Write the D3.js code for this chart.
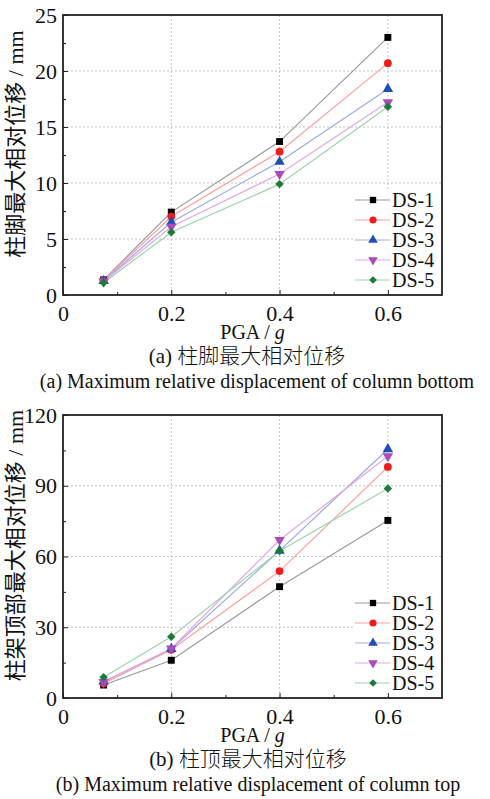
<!DOCTYPE html>
<html>
<head>
<meta charset="utf-8">
<script src="https://cdn.jsdelivr.net/npm/d3@7"></script>
<style>
  body { margin: 0; background: #fff; }
  svg { display: block; }
</style>
</head>
<body>
<div id="chart"></div>
<script>
// x values (PGA / g)
var pga = [0.075, 0.2, 0.4, 0.6]
var seriesNames = ["DS-1", "DS-2", "DS-3", "DS-4", "DS-5"]

// (a) column bottom, mm
var bottomDS1 = [1.35, 7.4, 13.7, 23.0]
var bottomDS2 = [1.3, 7.0, 12.8, 20.7]
var bottomDS3 = [1.25, 6.5, 11.9, 18.4]
var bottomDS4 = [1.2, 6.1, 10.8, 17.2]
var bottomDS5 = [1.1, 5.6, 9.9, 16.8]

// (b) column top, mm
var topDS1 = [5.5, 16.0, 47.2, 75.3]
var topDS2 = [6.2, 20.5, 53.8, 98.0]
var topDS3 = [7.0, 20.8, 62.5, 105.5]
var topDS4 = [6.8, 21.0, 67.0, 102.5]
var topDS5 = [8.8, 26.0, 62.3, 88.8]

var xTicks = [0, 0.2, 0.4, 0.6]
var bottomTicks = [0, 5, 10, 15, 20, 25]
var topTicks = [0, 30, 60, 90, 120]

var markerColors = ["#000000", "#f01c1c", "#1f4fb4", "#a84cb8", "#1e7a3a"]
var lineColors = ["#9a9a9a", "#ff9e9e", "#9eaae6", "#e2a8e6", "#9cd4aa"]
var symbols = [d3.symbolSquare, d3.symbolCircle, d3.symbolTriangle, d3.symbolTriangle, d3.symbolSquare]
var rotations = [0, 0, 0, 180, 45]

var SERIF = "'Liberation Serif', 'Times New Roman', serif"
var CJK = "'Noto Sans CJK SC', sans-serif"

var svg = d3.select("#chart").append("svg")
  .attr("width", 490)
  .attr("height", 799)

/*
 * LineChart - one panel
 */
LineChart = function (_g, _data, _opts) {
  this.g = _g
  this.data = _data
  this.opts = _opts
  this.initVis()
}

LineChart.prototype.initVis = function () {
  var vis = this
  var o = vis.opts

  vis.width = 379
  vis.height = o.height

  vis.x = d3.scaleLinear().domain([0, 0.7]).range([0, vis.width])
  vis.y = d3.scaleLinear().domain(o.yDomain).range([vis.height, 0])

  // grid
  vis.g.selectAll(".vgrid").data(xTicks.slice(1))
    .enter().append("line")
    .attr("x1", d => vis.x(d)).attr("x2", d => vis.x(d))
    .attr("y1", 0).attr("y2", vis.height)
    .attr("stroke", "#c4c4c4").attr("stroke-dasharray", "2,2")
  vis.g.selectAll(".hgrid").data(o.yTicks.slice(1, -1))
    .enter().append("line")
    .attr("x1", 0).attr("x2", vis.width)
    .attr("y1", d => vis.y(d)).attr("y2", d => vis.y(d))
    .attr("stroke", "#c4c4c4").attr("stroke-dasharray", "2,2")

  // lines
  var line = d3.line()
    .x((d, i) => vis.x(pga[i]))
    .y(d => vis.y(d))

  vis.data.forEach(function (vals, k) {
    vis.g.append("path")
      .attr("d", line(vals))
      .attr("fill", "none")
      .attr("stroke", lineColors[k])
      .attr("stroke-width", 1.2)
  })

  vis.data.forEach(function (vals, k) {
    vis.g.selectAll(".m" + k).data(vals)
      .enter().append("path")
      .attr("d", d3.symbol().type(symbols[k]).size(k == 4 ? 36 : 48))
      .attr("transform", (d, i) => "translate(" + vis.x(pga[i]) + "," + vis.y(d) + ") rotate(" + rotations[k] + ")")
      .attr("fill", markerColors[k])
  })

  // legend
  var lg = vis.g.append("g").attr("transform", "translate(290," + (vis.height - 106) + ")")
  lg.append("rect").attr("x", 0).attr("y", 0).attr("width", 88).attr("height", 104).attr("fill", "#fff")
  var items = lg.selectAll(".item").data(seriesNames).enter().append("g")
    .attr("transform", (d, i) => "translate(0," + (11 + i * 20) + ")")
  items.append("line")
    .attr("x1", 2).attr("x2", 37).attr("y1", 0).attr("y2", 0)
    .attr("stroke", (d, i) => lineColors[i]).attr("stroke-width", 1.2)
  items.append("path")
    .attr("d", (d, i) => d3.symbol().type(symbols[i]).size(i == 4 ? 30 : 40)())
    .attr("transform", (d, i) => "translate(20,0) rotate(" + rotations[i] + ")")
    .attr("fill", (d, i) => markerColors[i])
  items.append("text")
    .attr("x", 39).attr("y", 7)
    .style("font-family", SERIF)
    .style("font-size", "20px")
    .attr("fill", "#111")
    .text(d => d)

  // axes with inward ticks
  var xAxis = d3.axisBottom(vis.x).tickValues(xTicks).tickSize(-5).tickPadding(10)
    .tickFormat(d => d === 0 ? "0" : d3.format(".1f")(d))
  var xMinor = d3.axisBottom(vis.x).tickValues([0.1, 0.3, 0.5]).tickSize(-3).tickFormat("")
  var yAxis = d3.axisLeft(vis.y).tickValues(o.yTicks).tickSize(-5).tickPadding(6)
  var yMinor = d3.axisLeft(vis.y).tickValues(o.yMinor).tickSize(-3).tickFormat("")

  vis.g.append("g").attr("transform", "translate(0," + vis.height + ")").call(xMinor)
  vis.g.append("g").call(yMinor)
  var xg = vis.g.append("g").attr("transform", "translate(0," + vis.height + ")").call(xAxis)
  var yg = vis.g.append("g").call(yAxis)
  vis.g.selectAll(".domain").remove()
  vis.g.selectAll(".tick line").attr("stroke", "#222")
  xg.selectAll("text").style("font-family", SERIF).style("font-size", "22px").attr("fill", "#111")
  yg.selectAll("text").style("font-family", SERIF).style("font-size", "22px").attr("fill", "#111")

  // frame
  vis.g.append("rect")
    .attr("width", vis.width).attr("height", vis.height)
    .attr("fill", "none").attr("stroke", "#222").attr("stroke-width", 1.8)

  // y label
  var yl = vis.g.append("text")
    .attr("transform", "translate(-40," + (vis.height / 2 + o.labelShift) + ") rotate(-90)")
    .attr("text-anchor", "middle")
    .style("font-size", "22px")
    .attr("fill", "#111")
  yl.append("tspan").style("font-family", CJK).text(o.yLabel)
  yl.append("tspan").style("font-family", SERIF).text(" / mm")

  // x label
  var xl = vis.g.append("text")
    .attr("x", vis.width / 2).attr("y", vis.height + 44)
    .attr("text-anchor", "middle")
    .style("font-family", SERIF)
    .style("font-size", "20px")
    .attr("fill", "#111")
  xl.append("tspan").text("PGA / ")
  xl.append("tspan").attr("font-style", "italic").text("g")

  // captions
  var c1 = vis.g.append("text")
    .attr("x", o.capX - 10).attr("y", vis.height + 68)
    .attr("text-anchor", "middle")
    .style("font-size", "21px")
    .attr("fill", "#111")
  c1.append("tspan").style("font-family", SERIF).text(o.tag + " ")
  c1.append("tspan").style("font-family", CJK).style("font-weight", 300).text(o.capCN)

  vis.g.append("text")
    .attr("x", o.capX).attr("y", vis.height + 93)
    .attr("text-anchor", "middle")
    .style("font-family", SERIF)
    .style("font-size", "20px")
    .attr("fill", "#111")
    .text(o.tag + " " + o.capEN)
}

var g1 = svg.append("g").attr("transform", "translate(63,15)")
new LineChart(g1, [bottomDS1, bottomDS2, bottomDS3, bottomDS4, bottomDS5], {
  height: 280,
  yDomain: [0, 25],
  yTicks: bottomTicks,
  yMinor: [2.5, 7.5, 12.5, 17.5, 22.5],
  yLabel: "柱脚最大相对位移",
  labelShift: -11,
  tag: "(a)",
  capX: 194,
  capCN: "柱脚最大相对位移",
  capEN: "Maximum relative displacement of column bottom"
})

var g2 = svg.append("g").attr("transform", "translate(63,415)")
new LineChart(g2, [topDS1, topDS2, topDS3, topDS4, topDS5], {
  height: 283,
  yDomain: [0, 120],
  yTicks: topTicks,
  yMinor: [15, 45, 75, 105],
  yLabel: "柱架顶部最大相对位移",
  labelShift: -11,
  tag: "(b)",
  capX: 195,
  capCN: "柱顶最大相对位移",
  capEN: "Maximum relative displacement of column top"
})
</script>
</body>
</html>
